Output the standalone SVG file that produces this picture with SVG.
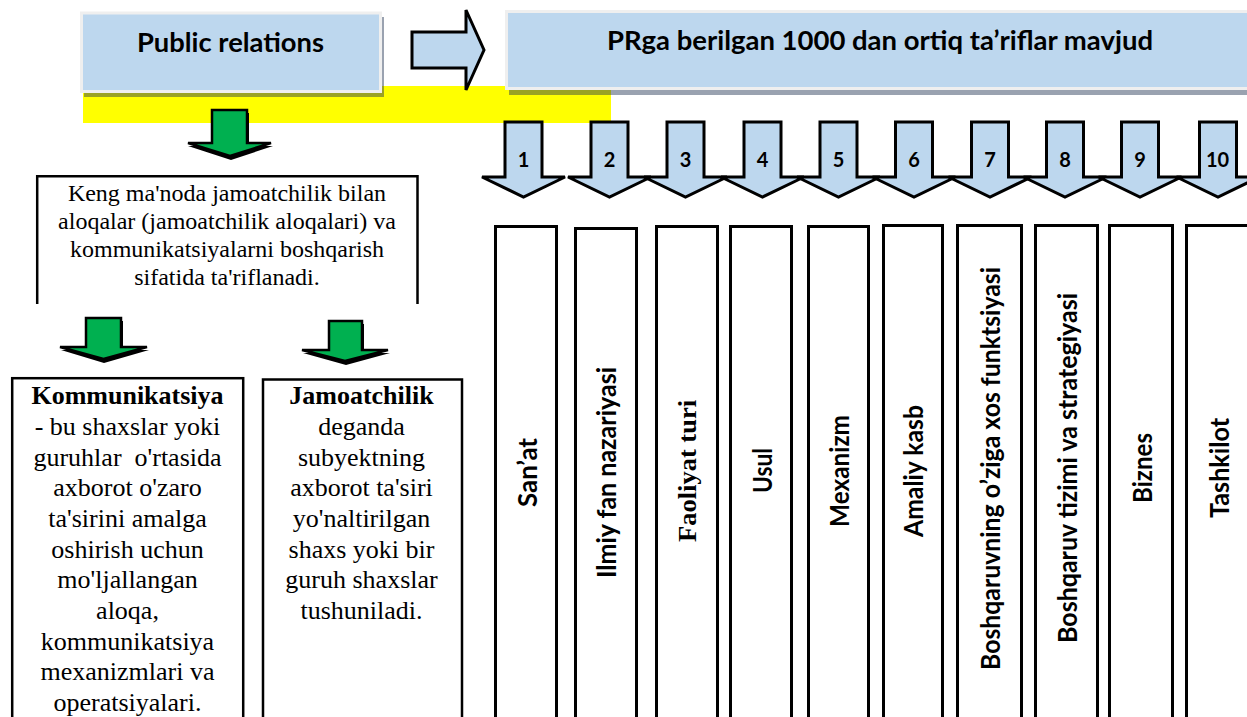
<svg xmlns="http://www.w3.org/2000/svg" width="1247" height="717" viewBox="0 0 1247 717">
<style>
.hdr{fill:#BDD7EE;stroke:#EFEFEF;stroke-width:3}
.shd{fill:#203050;fill-opacity:0.45}
.hdrt{font-family:Lato,"Open Sans",sans-serif;font-weight:bold;font-size:26px;fill:#000;text-anchor:middle}
.barrow{fill:#BDD7EE;stroke:#000;stroke-width:3;stroke-linejoin:miter}
.garrow{fill:#00B050;stroke:#000;stroke-width:2.5}
.gshadow{fill:#000}
.num{font-family:Lato,"Open Sans",sans-serif;font-weight:bold;font-size:20px;text-anchor:middle;fill:#000}
.col{fill:#fff;stroke:#000;stroke-width:3}
.vt{font-family:Lato,"Open Sans",sans-serif;font-weight:bold;font-size:26px;text-anchor:middle;fill:#000}
.vts{font-family:"Liberation Serif","Times New Roman",serif;font-weight:bold;font-size:26px;text-anchor:middle;fill:#000}
.box{fill:#fff;stroke:#000;stroke-width:2.5}
.tt{font-family:"Liberation Serif","Times New Roman",serif;font-size:24px;text-anchor:middle;fill:#000}
.tb{font-family:"Liberation Serif","Times New Roman",serif;font-size:26px;text-anchor:middle;fill:#000}
</style>

<rect id="yellow-band" x="83" y="86" width="528" height="37" fill="#FFFF00"/>

<g id="node-public-relations">
  <rect class="shd" x="84" y="17" width="300" height="80"/>
  <rect class="hdr" x="81.5" y="13" width="299" height="78.5"/>
  <text class="hdrt" x="230.5" y="52" textLength="187" lengthAdjust="spacingAndGlyphs">Public relations</text>
</g>

<g id="node-definitions">
  <rect class="shd" x="509" y="16" width="760" height="79"/>
  <rect class="hdr" x="506.5" y="11.5" width="760" height="77"/>
  <text class="hdrt" x="880" y="50" textLength="546" lengthAdjust="spacingAndGlyphs">PRga berilgan 1000 dan ortiq ta’riflar mavjud</text>
</g>

<g id="node-keng">
  <path class="box" fill="none" d="M37.2,304 V176.3 H417.5 V304"/>
  <text class="tt" x="227" y="201">Keng ma'noda jamoatchilik bilan</text>
  <text class="tt" x="227" y="229">aloqalar (jamoatchilik aloqalari) va</text>
  <text class="tt" x="227" y="257">kommunikatsiyalarni boshqarish</text>
  <text class="tt" x="227" y="285">sifatida ta'riflanadi.</text>
</g>

<g id="node-kommunikatsiya">
  <rect class="box" x="12.2" y="378.2" width="231" height="360"/>
  <text class="tb" x="127.5" y="404"><tspan font-weight="bold">Kommunikatsiya</tspan></text>
  <text class="tb" x="127.5" y="435">- bu shaxslar yoki</text>
  <text class="tb" x="127.5" y="465.5" xml:space="preserve">guruhlar  o'rtasida</text>
  <text class="tb" x="127.5" y="496">axborot o'zaro</text>
  <text class="tb" x="127.5" y="527">ta'sirini amalga</text>
  <text class="tb" x="127.5" y="557.5">oshirish uchun</text>
  <text class="tb" x="127.5" y="588">mo'ljallangan</text>
  <text class="tb" x="127.5" y="619">aloqa,</text>
  <text class="tb" x="127.5" y="649.5">kommunikatsiya</text>
  <text class="tb" x="127.5" y="680">mexanizmlari va</text>
  <text class="tb" x="127.5" y="711">operatsiyalari.</text>
</g>

<g id="node-jamoatchilik">
  <rect class="box" x="263" y="379.5" width="199" height="360"/>
  <text class="tb" x="361.5" y="404"><tspan font-weight="bold">Jamoatchilik</tspan></text>
  <text class="tb" x="361.5" y="435">deganda</text>
  <text class="tb" x="361.5" y="465.5">subyektning</text>
  <text class="tb" x="361.5" y="496">axborot ta'siri</text>
  <text class="tb" x="361.5" y="527">yo'naltirilgan</text>
  <text class="tb" x="361.5" y="557.5">shaxs yoki bir</text>
  <text class="tb" x="361.5" y="588">guruh shaxslar</text>
  <text class="tb" x="361.5" y="619">tushuniladi.</text>
</g>

<g id="node-col1"><rect class="col" x="495.5" y="226.5" width="61" height="510"/>
  <text class="vt" transform="translate(537,472.5) rotate(-90)" textLength="69" lengthAdjust="spacingAndGlyphs">San’at</text></g>
<g id="node-col2"><rect class="col" x="575.5" y="228.5" width="61" height="510"/>
  <text class="vt" transform="translate(616,472.5) rotate(-90)" textLength="211" lengthAdjust="spacingAndGlyphs">Ilmiy fan nazariyasi</text></g>
<g id="node-col3"><rect class="col" x="656.5" y="226.5" width="61" height="510"/>
  <text class="vts" transform="translate(696,471) rotate(-90)" textLength="142" lengthAdjust="spacingAndGlyphs">Faoliyat turi</text></g>
<g id="node-col4"><rect class="col" x="730.5" y="226.5" width="61" height="510"/>
  <text class="vt" transform="translate(772,470.5) rotate(-90)" textLength="45" lengthAdjust="spacingAndGlyphs">Usul</text></g>
<g id="node-col5"><rect class="col" x="808.5" y="226.5" width="60" height="510"/>
  <text class="vt" transform="translate(848.5,471) rotate(-90)" textLength="112" lengthAdjust="spacingAndGlyphs">Mexanizm</text></g>
<g id="node-col6"><rect class="col" x="883.5" y="225.5" width="59" height="510"/>
  <text class="vt" transform="translate(923,471) rotate(-90)" textLength="132" lengthAdjust="spacingAndGlyphs">Amaliy kasb</text></g>
<g id="node-col7"><rect class="col" x="957.5" y="225.5" width="64" height="510"/>
  <text class="vt" transform="translate(1000,468.5) rotate(-90)" textLength="403" lengthAdjust="spacingAndGlyphs">Boshqaruvning o’ziga xos funktsiyasi</text></g>
<g id="node-col8"><rect class="col" x="1035.5" y="225.5" width="62" height="510"/>
  <text class="vt" transform="translate(1077,468) rotate(-90)" textLength="350" lengthAdjust="spacingAndGlyphs">Boshqaruv tizimi va strategiyasi</text></g>
<g id="node-col9"><rect class="col" x="1109.5" y="225.5" width="63" height="510"/>
  <text class="vt" transform="translate(1152,468) rotate(-90)" textLength="70" lengthAdjust="spacingAndGlyphs">Biznes</text></g>
<g id="node-col10"><rect class="col" x="1186.5" y="225.5" width="90" height="510"/>
  <text class="vt" transform="translate(1229,468) rotate(-90)" textLength="100" lengthAdjust="spacingAndGlyphs">Tashkilot</text></g>

<g id="connectors">
  <path class="barrow" d="M412,32 H466 V10 L484,50 L466,90 V68 H412 Z"/>

  <path class="gshadow" d="M212,113 H249 V146 H273 L231,160 L188,146 H212 Z"/>
  <path class="garrow" d="M212,110 H247 V143 H271 L230,156 L188,143 H212 Z"/>
  <path class="gshadow" d="M86,321 H123 V350 H149 L104,363 L61,350 H86 Z"/>
  <path class="garrow" d="M86,318 H121 V347 H147 L103.5,359 L60,347 H86 Z"/>
  <path class="gshadow" d="M329,324 H364 V353 H390 L346,365 L303,353 H329 Z"/>
  <path class="garrow" d="M329,321 H362 V350 H388 L345,361 L302,350 H329 Z"/>

  <g id="blue-arrows">
    <path class="barrow" d="M505,122 H542 V177 H565 L523.5,197 L482,177 H505 Z"/>
    <path class="barrow" d="M591,122 H628 V177 H651 L609.5,197 L568,177 H591 Z"/>
    <path class="barrow" d="M667,122 H704 V177 H727 L685.5,197 L644,177 H667 Z"/>
    <path class="barrow" d="M744,122 H781 V177 H804 L762.5,197 L721,177 H744 Z"/>
    <path class="barrow" d="M820,122 H857 V177 H880 L838.5,197 L797,177 H820 Z"/>
    <path class="barrow" d="M895.5,122 H932.5 V177 H955.5 L914,197 L872.5,177 H895.5 Z"/>
    <path class="barrow" d="M971.5,122 H1008.5 V177 H1031.5 L990,197 L948.5,177 H971.5 Z"/>
    <path class="barrow" d="M1046.5,122 H1083.5 V177 H1106.5 L1065,197 L1023.5,177 H1046.5 Z"/>
    <path class="barrow" d="M1121.5,122 H1158.5 V177 H1181.5 L1140,197 L1098.5,177 H1121.5 Z"/>
    <path class="barrow" d="M1199.5,122 H1236.5 V177 H1259.5 L1218,197 L1176.5,177 H1199.5 Z"/>
  </g>
  <text class="num" x="523.5" y="167">1</text>
  <text class="num" x="609.5" y="167">2</text>
  <text class="num" x="685.5" y="167">3</text>
  <text class="num" x="762.5" y="167">4</text>
  <text class="num" x="838.5" y="167">5</text>
  <text class="num" x="914" y="167">6</text>
  <text class="num" x="990" y="167">7</text>
  <text class="num" x="1065" y="167">8</text>
  <text class="num" x="1140" y="167">9</text>
  <text class="num" x="1217.5" y="167">10</text>
</g>
</svg>
